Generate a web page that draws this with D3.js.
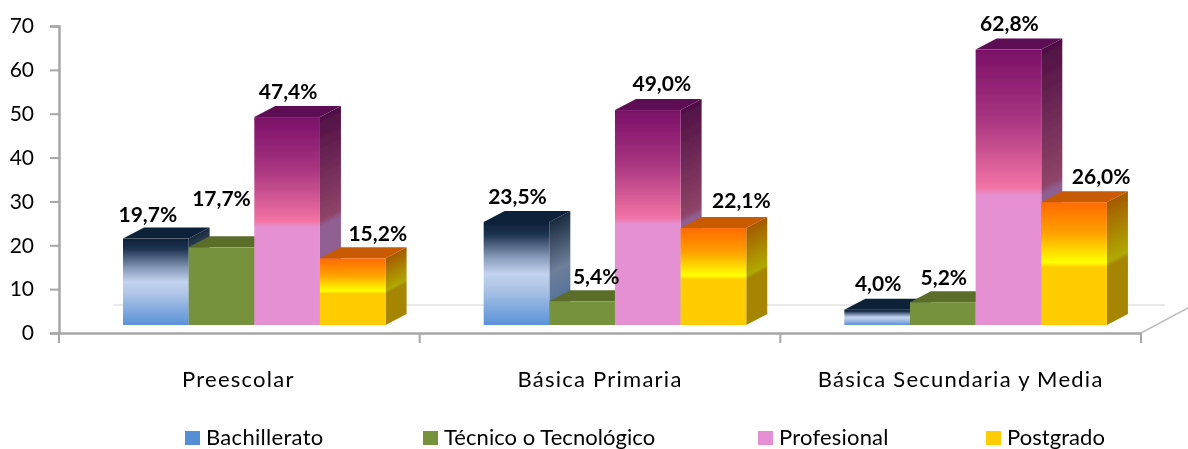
<!DOCTYPE html>
<html>
<head>
<meta charset="utf-8">
<script src="https://cdn.jsdelivr.net/npm/d3@7"></script>
<style>
    html, body { margin: 0; background: #fff; }
    text { font-family: Lato, "Open Sans", sans-serif; fill: #000; }
</style>
</head>
<body>
<svg id="chart" width="1188" height="449"></svg>
<script>
const categories = ["Preescolar", "Básica Primaria", "Básica Secundaria y Media"];
const seriesNames = ["Bachillerato", "Técnico o Tecnológico", "Profesional", "Postgrado"];
// bar heights, the printed labels are kept apart below
const bachillerato = [19.7, 23.5, 3.5];
const tecnico = [17.7, 5.4, 5.2];
const profesional = [47.4, 49.0, 62.8];
const postgrado = [15.2, 22.1, 28.0];
const seriesValues = [bachillerato, tecnico, profesional, postgrado];
const bachilleratoLabels = ["19,7%", "23,5%", "4,0%"];
const tecnicoLabels = ["17,7%", "5,4%", "5,2%"];
const profesionalLabels = ["47,4%", "49,0%", "62,8%"];
const postgradoLabels = ["15,2%", "22,1%", "26,0%"];
const seriesLabels = [bachilleratoLabels, tecnicoLabels, profesionalLabels, postgradoLabels];
const yTicks = [0, 10, 20, 30, 40, 50, 60, 70];

// label placement relative to the top of each bar, [dx, dy] per category
const labelNudge = [
    [[-8, -17], [1, -18], [1, -19]],
    [[0, -41], [14, -17], [1, -17]],
    [[1, -18], [14, -19], [1, -19]],
    [[25, -17], [28, -20], [27, -18]],
];

const legendX = [185, 423, 758, 986];
const legendSpacing = [0.3, 0.05, 0.2, 0.05];

// gradient stops for front and side faces, per series
const frontStops = [
    [[0, "#0d2138"], [0.12, "#1d3350"], [0.35, "#8a9dbc"], [0.5, "#c2d2ee"], [0.62, "#b3c8e8"], [1, "#5b92d8"]],
    [[0, "#76923c"], [1, "#76923c"]],
    [[0, "#7a1068"], [0.25, "#a83580"], [0.5, "#f273a4"], [0.53, "#e490d3"], [1, "#e490d3"]],
    [[0, "#ff6a00"], [0.25, "#ffa000"], [0.49, "#ffff00"], [0.53, "#ffcc00"], [1, "#ffcc00"]],
];
const sideStops = [
    [[0, "#1a2a3e"], [0.5, "#6f7f9a"], [1, "#446a9c"]],
    [[0, "#5a6e2c"], [1, "#5a6e2c"]],
    [[0, "#4f0f45"], [0.5, "#8f4468"], [0.53, "#8f5f92"], [1, "#8f5f92"]],
    [[0, "#a45a00"], [0.49, "#b0a800"], [0.53, "#a68600"], [1, "#a68600"]],
];
const topColors = ["#0d2138", "#5a6e2c", "#5c0c52", "#c85a00"];
const legendColors = ["#558ed5", "#76923c", "#e490d3", "#ffcc00"];

const svg = d3.select("#chart");
const axisColor = "#a6a6a6";
const depthX = 21;
const depthY = 11;
const floorInset = 8;
const textSize = 22;

const y = d3.scaleLinear().domain([0, 70]).range([333, 26]);
const x0 = d3.scaleBand().domain(categories).range([59, 1141]);
const x1 = d3.scaleBand().domain(seriesNames).range([64, 326.6]);

// gradients
const defs = svg.append("defs");
const addGradient = (id, stops) => {
    const g = defs.append("linearGradient")
        .attr("id", id)
        .attr("x1", 0).attr("y1", 0)
        .attr("x2", 0).attr("y2", 1);
    stops.forEach(s => {
        g.append("stop").attr("offset", s[0]).attr("stop-color", s[1]);
    });
};
seriesNames.forEach((name, i) => {
    addGradient(`front-${i}`, frontStops[i]);
    addGradient(`side-${i}`, sideStops[i]);
});
defs.append("filter").attr("id", "soft")
    .append("feGaussianBlur").attr("stdDeviation", 0.5);
defs.append("filter").attr("id", "softText")
    .append("feGaussianBlur").attr("stdDeviation", 0.3);

// floor
svg.append("line")
    .attr("x1", 114).attr("x2", 1165)
    .attr("y1", y(0) - 28).attr("y2", y(0) - 28)
    .attr("stroke", "#e2e2e2").attr("stroke-width", 1.5);
svg.append("line")
    .attr("x1", x0.range()[1]).attr("y1", y(0))
    .attr("x2", 1188).attr("y2", y(0) - 25)
    .attr("stroke", "#bdbdbd").attr("stroke-width", 1.5);

// axes
const yAxis = svg.append("g")
    .attr("transform", "translate(59,0)")
    .call(d3.axisLeft(y).tickValues(yTicks).tickSize(9).tickPadding(16));
const xAxis = svg.append("g")
    .attr("transform", `translate(0,${y(0)})`)
    .call(d3.axisBottom(x0).tickValues([]).tickSizeOuter(0));

xAxis.selectAll(".edge")
    .data([0, 1, 2, 3])
    .join("line")
    .attr("class", "edge")
    .attr("x1", d => 59 + d * x0.bandwidth())
    .attr("x2", d => 59 + d * x0.bandwidth())
    .attr("y1", 0).attr("y2", 10)
    .attr("stroke", axisColor).attr("stroke-width", 2);

[yAxis, xAxis].forEach(axis => {
    axis.selectAll(".domain").attr("stroke", axisColor).attr("stroke-width", 2.5);
    axis.selectAll(".tick line").attr("stroke", axisColor).attr("stroke-width", 2);
});
yAxis.selectAll("text")
    .attr("font-size", 21)
    .style("font-family", "Lato")
    .attr("filter", "url(#softText)");

// bars, drawn left to right so that each one hides the side of the previous
const bars = svg.append("g")
    .attr("transform", `translate(0,${-floorInset})`)
    .attr("filter", "url(#soft)");

categories.forEach((cat, c) => {
    seriesNames.forEach((name, s) => {
        const value = seriesValues[s][c];
        const left = x0(cat) + x1(name);
        const right = left + x1.bandwidth();
        const top = y(value);
        const h = y(0) - top;

        bars.append("rect")
            .attr("width", depthX)
            .attr("height", h)
            .attr("transform", `translate(${right},${top}) skewY(${-Math.atan2(depthY, depthX) * 180 / Math.PI})`)
            .attr("fill", `url(#side-${s})`);

        bars.append("path")
            .attr("d", d3.line()([
                [left, top],
                [left + depthX, top - depthY],
                [right + depthX, top - depthY],
                [right, top],
            ]) + "Z")
            .attr("fill", topColors[s]);

        bars.append("rect")
            .attr("x", left)
            .attr("y", top)
            .attr("width", x1.bandwidth())
            .attr("height", h)
            .attr("fill", `url(#front-${s})`);
    });
});

// data labels
categories.forEach((cat, c) => {
    seriesNames.forEach((name, s) => {
        const nudge = labelNudge[s][c];
        svg.append("text")
            .attr("x", x0(cat) + x1(name) + x1.bandwidth() / 2 + nudge[0])
            .attr("y", y(seriesValues[s][c]) - floorInset + nudge[1])
            .attr("text-anchor", "middle")
            .attr("font-size", 21)
            .attr("font-weight", 700)
            .attr("filter", "url(#softText)")
            .text(seriesLabels[s][c]);
    });
});

// category labels
svg.selectAll(".cat")
    .data(categories)
    .join("text")
    .attr("class", "cat")
    .attr("x", d => x0(d) + x0.bandwidth() / 2 - (d === categories[0] ? 1 : 0))
    .attr("y", 387)
    .attr("text-anchor", "middle")
    .attr("font-size", textSize)
    .attr("letter-spacing", 1.25)
    .attr("filter", "url(#softText)")
    .text(d => d);

// legend
seriesNames.forEach((name, i) => {
    svg.append("rect")
        .attr("x", legendX[i])
        .attr("y", 431)
        .attr("width", 15)
        .attr("height", 14)
        .attr("fill", legendColors[i]);
    svg.append("text")
        .attr("x", legendX[i] + 21)
        .attr("y", 445)
        .attr("font-size", textSize)
        .attr("letter-spacing", legendSpacing[i])
        .attr("filter", "url(#softText)")
        .text(name);
});
</script>
</body>
</html>
